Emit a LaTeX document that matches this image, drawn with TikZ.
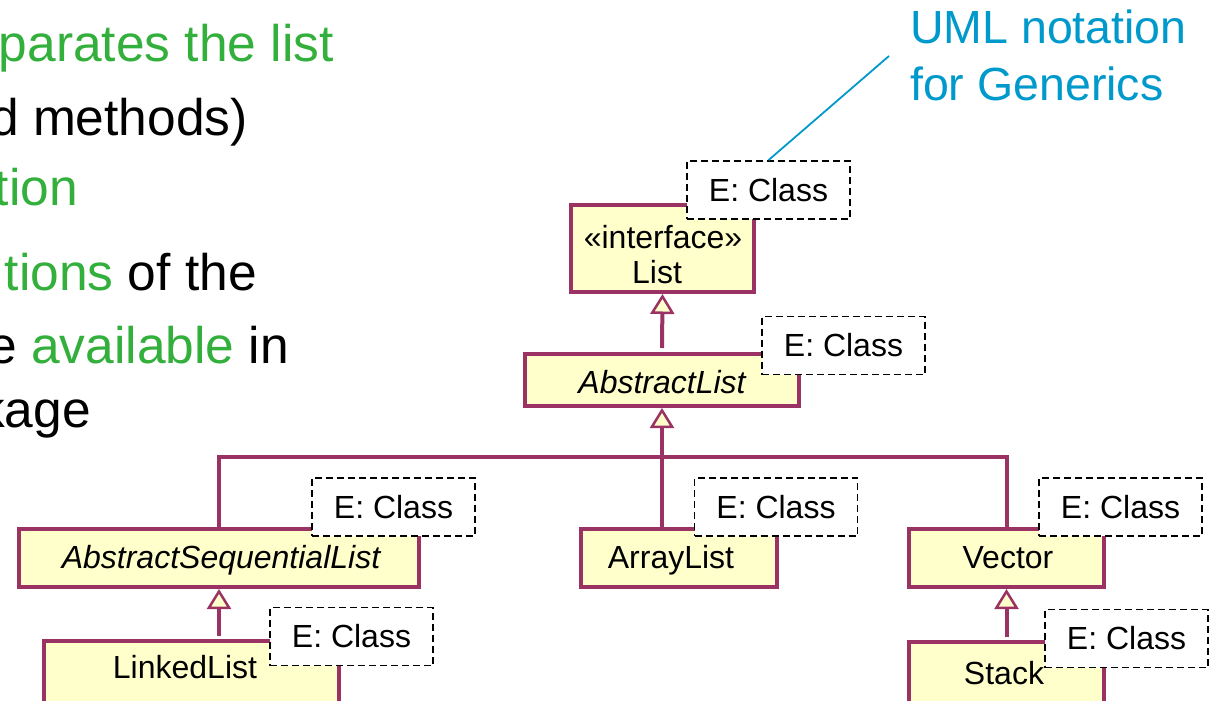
\documentclass[tikz,border=0pt]{standalone}
\usepackage{fontspec}
\setmainfont{Liberation Sans}
\usetikzlibrary{arrows.meta}
\definecolor{umlborder}{RGB}{155,50,100}
\definecolor{umlfill}{RGB}{255,255,204}
\definecolor{txtgreen}{RGB}{51,175,60}
\definecolor{noteblue}{RGB}{0,153,204}
\begin{document}
\begin{tikzpicture}[x=1pt,y=-1pt,
  cls/.style={draw=umlborder, line width=4pt, fill=umlfill, inner sep=0pt,
    font=\fontsize{32}{35}\selectfont, align=center},
  tparam/.style={draw=black, line width=1.7pt, dash pattern=on 7pt off 4pt,
    fill=white, minimum width=163pt, minimum height=58pt, inner sep=0pt,
    font=\fontsize{32}{35}\selectfont},
  conn/.style={draw=umlborder, line width=4pt},
  inh/.style={conn, -{Triangle[width=24pt,length=20pt,fill=umlfill,line width=2.5pt]}},
  bigtext/.style={anchor=base east, inner sep=0pt, font=\fontsize{51.5}{60}\selectfont},
  cname/.style={anchor=base, inner sep=0pt, font=\fontsize{32}{35}\selectfont}]
\useasboundingbox (0,0) rectangle (1216,701);

% left text fragments
\node[bigtext, text=txtgreen] (t1) at (334,62) {parates the list};
\node[bigtext] (t2) at (248,135) {d methods)};
\node[bigtext, text=txtgreen] (t3) at (78,205) {tion};
\node[bigtext] (t4) at (257,290) {\textcolor{txtgreen}{tions} of the};
\node[bigtext] (t5) at (289,363) {e \textcolor{txtgreen}{available} in};
\node[bigtext] (t6) at (91,427) {kage};

% class boxes
\node[cls, minimum width=183pt, minimum height=87pt] (List) at (662.5,248.5) {};
\node[cls, minimum width=274pt, minimum height=52pt] (AL) at (662,380) {};
\node[cls, minimum width=400pt, minimum height=58pt] (ASL) at (219,558) {};
\node[cls, minimum width=196pt, minimum height=58pt] (ArrL) at (679,558) {};
\node[cls, minimum width=195pt, minimum height=58pt] (Vec) at (1006.5,558) {};
\node[cls, minimum width=295pt, minimum height=80pt] (LL) at (191.5,681) {};
\node[cls, minimum width=195pt, minimum height=80pt] (Stk) at (1006.5,682) {};

% class names
\node[cname] (Listt1) at (663,248) {«interface»};
\node[cname] (Listt2) at (657,283) {List};
\node[cname] (ALt) at (662,393) {\itshape AbstractList};
\node[cname] (ASLt) at (221,568) {\itshape AbstractSequentialList};
\node[cname] (ArrLt) at (671,568) {ArrayList};
\node[cname] (Vect) at (1008,568) {Vector};
\node[cname] (LLt) at (185,678) {LinkedList};

% connectors
\coordinate (bus) at (662,457);
\draw[inh, shorten <=4pt] (AL.north) -- (List.south);
\draw[conn] (ASL.north) |- (bus) -| (Vec.north);
\draw[inh] (AL.south |- ArrL.north) -- (AL.south);
\draw[inh, shorten <=3pt] (LL.north -| ASL.south) -- (ASL.south);
\draw[inh, shorten <=3pt] (Stk.north) -- (Vec.south);

% template parameter boxes
\node[tparam] (EList) at (768.5,190) {E: Class};
\node[tparam] (EAL) at (843.5,345.5) {E: Class};
\node[tparam] (EASL) at (393.5,507) {E: Class};
\node[tparam] (EArr) at (776,507) {E: Class};
\node[tparam] (EVec) at (1120.5,507) {E: Class};
\node[tparam] (ELL) at (351.5,636.5) {E: Class};
\node[tparam] (EStk) at (1126.5,638.5) {E: Class};
\node[cname] (Stkt) at (1004,684) {Stack};

% note
\coordinate (notept) at (889,56);
\draw[noteblue, line width=1.8pt] (EList.north) -- (notept);
\node[anchor=base west, inner sep=0pt, text=noteblue, font=\fontsize{46.5}{57}\selectfont, align=left] (note) at (910,100) {UML notation\\for Generics};
\end{tikzpicture}
\end{document}
